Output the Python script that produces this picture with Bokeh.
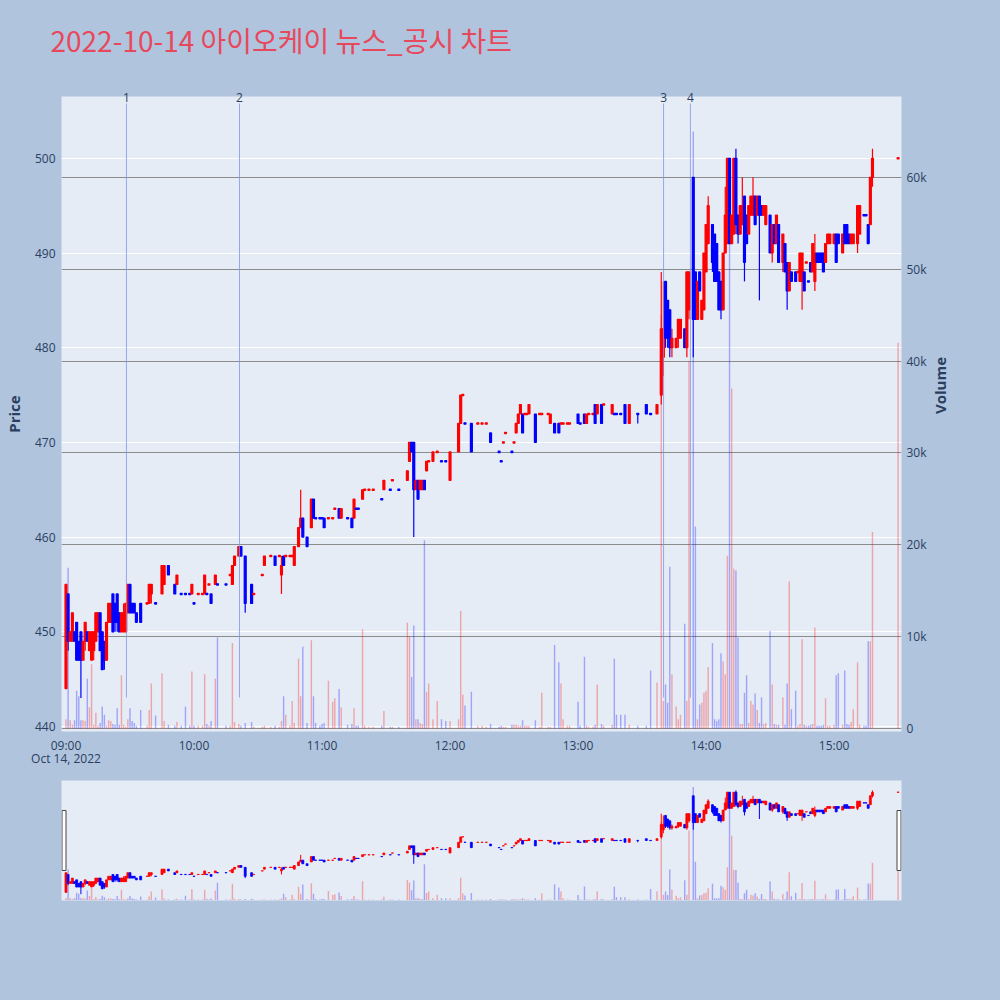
import pandas as pd
from math import pi
from bokeh.plotting import figure
from bokeh.models import (Range1d, LinearAxis, FixedTicker, ColumnDataSource, Grid)
from bokeh.layouts import column
from bokeh.embed import file_html
from bokeh.resources import INLINE

DAY = "2022-10-14"
TITLE = "2022-10-14 아이오케이 뉴스_공시 차트"

times = [
    "09:00", "09:01", "09:02", "09:03", "09:04", "09:05", "09:06", "09:07", "09:08", "09:09",
    "09:10", "09:11", "09:12", "09:13", "09:14", "09:15", "09:16", "09:17", "09:18", "09:19",
    "09:20", "09:21", "09:22", "09:23", "09:24", "09:25", "09:26", "09:27", "09:28", "09:29",
    "09:30", "09:31", "09:32", "09:33", "09:35", "09:38", "09:39", "09:40", "09:42", "09:45",
    "09:46", "09:48", "09:51", "09:52", "09:54", "09:56", "09:58", "09:59", "10:00", "10:02",
    "10:04", "10:05", "10:06", "10:07", "10:08", "10:10", "10:11", "10:15", "10:17", "10:18",
    "10:19", "10:21", "10:22", "10:24", "10:27", "10:28", "10:32", "10:33", "10:36", "10:38",
    "10:40", "10:41", "10:42", "10:43", "10:45", "10:46", "10:47", "10:49", "10:50", "10:51",
    "10:53", "10:55", "10:56", "10:57", "10:59", "11:00", "11:01", "11:03", "11:05", "11:06",
    "11:08", "11:09", "11:12", "11:14", "11:15", "11:16", "11:17", "11:19", "11:20", "11:22",
    "11:24", "11:28", "11:29", "11:32", "11:33", "11:36", "11:40", "11:41", "11:42", "11:43",
    "11:44", "11:45", "11:46", "11:47", "11:48", "11:49", "11:50", "11:52", "11:54", "11:56",
    "11:58", "12:00", "12:04", "12:05", "12:06", "12:07", "12:10", "12:13", "12:15", "12:17",
    "12:19", "12:23", "12:24", "12:25", "12:26", "12:29", "12:30", "12:31", "12:32", "12:33",
    "12:34", "12:35", "12:36", "12:37", "12:40", "12:42", "12:43", "12:46", "12:47", "12:49",
    "12:51", "12:52", "12:53", "12:55", "12:56", "13:00", "13:01", "13:03", "13:04", "13:05",
    "13:07", "13:08", "13:09", "13:11", "13:12", "13:16", "13:17", "13:18", "13:20", "13:22",
    "13:24", "13:28", "13:32", "13:34", "13:37", "13:39", "13:40", "13:41", "13:42", "13:43",
    "13:44", "13:46", "13:47", "13:48", "13:50", "13:51", "13:52", "13:54", "13:55", "13:56",
    "13:57", "13:58", "13:59", "14:00", "14:01", "14:03", "14:04", "14:05", "14:06", "14:07",
    "14:08", "14:09", "14:10", "14:11", "14:12", "14:13", "14:14", "14:15", "14:16", "14:17",
    "14:18", "14:19", "14:20", "14:21", "14:22", "14:23", "14:24", "14:25", "14:26", "14:27",
    "14:28", "14:30", "14:31", "14:32", "14:33", "14:34", "14:36", "14:37", "14:38", "14:39",
    "14:40", "14:42", "14:43", "14:44", "14:45", "14:46", "14:47", "14:48", "14:49", "14:50",
    "14:51", "14:52", "14:53", "14:54", "14:55", "14:56", "14:57", "14:58", "15:00", "15:01",
    "15:02", "15:04", "15:05", "15:06", "15:07", "15:08", "15:09", "15:11", "15:12", "15:14",
    "15:15", "15:16", "15:17", "15:18", "15:30",
]

opens = [
    444, 454, 449, 449, 450, 451, 449, 450, 447, 449,
    450, 448, 447, 448, 449, 450, 452, 450, 449, 447,
    451, 451, 454, 453, 454, 452, 450, 450, 450, 452,
    455, 453, 453, 452, 453, 453, 453, 454, 453, 454,
    455, 457, 455, 455, 454, 454, 454, 454, 453, 454,
    454, 454, 454, 455, 454, 455, 455, 455, 456, 455,
    457, 458, 459, 458, 455, 454, 456, 457, 458, 458,
    458, 456, 458, 458, 458, 458, 457, 459, 461, 462,
    460, 461, 464, 462, 462, 462, 462, 462, 462, 463,
    463, 462, 462, 462, 462, 463, 463, 464, 465, 465,
    465, 464, 465, 465, 466, 465, 466, 468, 470, 470,
    465, 466, 465, 465, 466, 467, 468, 468, 469, 468,
    468, 466, 469, 472, 475, 472, 472, 472, 472, 472,
    471, 469, 468, 470, 471, 469, 470, 471, 472, 473,
    473, 473, 473, 473, 473, 473, 473, 473, 472, 472,
    472, 472, 472, 472, 472, 473, 472, 473, 472, 473,
    473, 474, 473, 474, 474, 473, 473, 473, 473, 474,
    472, 473, 474, 473, 473, 475, 479, 487, 485, 484,
    480, 480, 481, 481, 482, 480, 484, 498, 488, 483,
    488, 483, 484, 488, 491, 493, 492, 491, 488, 487,
    484, 490, 491, 500, 491, 492, 500, 494, 492, 493,
    496, 494, 492, 494, 494, 496, 494, 496, 495, 494,
    493, 494, 490, 493, 491, 493, 489, 491, 489, 486,
    488, 488, 488, 487, 487, 488, 489, 487, 489, 488,
    487, 490, 490, 490, 490, 489, 491, 491, 491, 492,
    492, 490, 493, 493, 492, 491, 491, 491, 492, 494,
    494, 493, 493, 498, 500,
]

highs = [
    455, 454, 450, 452, 450, 451, 449, 450, 449, 451,
    450, 450, 450, 450, 452, 452, 452, 450, 449, 451,
    453, 453, 454, 453, 454, 452, 452, 453, 453, 455,
    455, 453, 453, 452, 453, 453, 455, 455, 453, 457,
    457, 457, 455, 456, 454, 454, 454, 455, 453, 454,
    454, 456, 454, 455, 454, 456, 455, 455, 456, 457,
    458, 459, 459, 458, 455, 454, 456, 458, 458, 458,
    458, 458, 458, 458, 458, 458, 459, 461, 465, 462,
    460, 464, 464, 462, 462, 462, 462, 462, 462, 463,
    463, 463, 462, 462, 464, 463, 463, 465, 465, 465,
    465, 464, 466, 465, 466, 465, 467, 470, 470, 470,
    466, 466, 466, 466, 466, 468, 468, 469, 469, 468,
    468, 469, 472, 475, 475, 472, 472, 472, 472, 472,
    471, 469, 468, 470, 471, 469, 470, 472, 473, 474,
    473, 473, 473, 474, 473, 473, 473, 473, 473, 472,
    472, 472, 472, 472, 472, 473, 472, 473, 473, 473,
    473, 474, 474, 474, 474, 474, 473, 473, 473, 474,
    474, 473, 474, 473, 474, 488, 487, 487, 485, 484,
    482, 481, 483, 483, 482, 488, 488, 498, 488, 487,
    488, 485, 490, 493, 496, 493, 492, 491, 488, 487,
    490, 497, 500, 500, 494, 500, 501, 494, 495, 498,
    496, 494, 495, 496, 498, 496, 496, 496, 495, 495,
    495, 494, 493, 493, 494, 493, 492, 491, 489, 489,
    488, 488, 488, 490, 490, 488, 489, 487, 489, 491,
    492, 490, 490, 490, 490, 491, 492, 492, 492, 492,
    492, 492, 493, 493, 492, 492, 492, 495, 495, 494,
    494, 493, 498, 501, 500,
]

lows = [
    444, 448, 449, 449, 449, 447, 447, 443, 447, 448,
    449, 448, 447, 447, 449, 450, 448, 446, 446, 447,
    451, 451, 450, 450, 450, 450, 450, 450, 450, 452,
    452, 452, 452, 451, 451, 453, 453, 453, 453, 454,
    455, 456, 454, 455, 454, 454, 454, 454, 453, 454,
    454, 454, 454, 455, 453, 455, 455, 455, 456, 455,
    457, 458, 458, 452, 453, 454, 456, 457, 458, 457,
    458, 454, 457, 458, 458, 458, 457, 459, 461, 460,
    459, 461, 462, 462, 462, 462, 461, 462, 462, 463,
    462, 462, 462, 461, 462, 463, 463, 464, 465, 465,
    465, 464, 465, 465, 466, 465, 466, 468, 469, 460,
    465, 464, 465, 465, 465, 467, 468, 468, 469, 468,
    468, 466, 469, 472, 475, 472, 469, 472, 472, 472,
    470, 469, 468, 470, 471, 469, 470, 471, 472, 473,
    471, 473, 473, 473, 470, 473, 473, 473, 472, 471,
    471, 472, 472, 472, 472, 472, 472, 472, 472, 473,
    473, 472, 473, 472, 474, 473, 473, 473, 473, 472,
    472, 472, 473, 473, 473, 474, 477, 480, 480, 479,
    479, 480, 480, 481, 480, 479, 483, 479, 483, 483,
    486, 483, 484, 488, 491, 488, 487, 487, 484, 483,
    484, 490, 491, 491, 491, 492, 492, 491, 492, 493,
    487, 491, 492, 494, 494, 493, 494, 485, 494, 494,
    493, 490, 489, 491, 491, 489, 488, 488, 484, 486,
    487, 487, 488, 487, 484, 486, 489, 487, 488, 488,
    486, 489, 489, 489, 488, 489, 491, 491, 491, 489,
    491, 490, 491, 491, 491, 491, 491, 490, 492, 494,
    494, 491, 493, 497, 500,
]

closes = [
    455, 449, 450, 452, 449, 447, 447, 447, 449, 451,
    449, 450, 450, 450, 452, 452, 448, 446, 447, 451,
    453, 453, 450, 451, 451, 450, 452, 452, 453, 455,
    452, 452, 452, 451, 451, 453, 455, 455, 453, 457,
    457, 456, 454, 456, 454, 454, 454, 455, 453, 454,
    454, 456, 454, 455, 453, 456, 455, 455, 456, 457,
    458, 459, 458, 453, 453, 454, 456, 458, 458, 457,
    458, 457, 457, 458, 458, 458, 459, 461, 462, 460,
    459, 464, 462, 462, 462, 462, 461, 462, 462, 463,
    462, 463, 462, 461, 464, 463, 463, 465, 465, 465,
    465, 464, 466, 465, 466, 465, 467, 470, 469, 465,
    466, 464, 466, 466, 465, 468, 468, 469, 469, 468,
    468, 469, 472, 475, 475, 472, 469, 472, 472, 472,
    470, 469, 468, 470, 471, 469, 470, 472, 473, 474,
    471, 473, 473, 474, 470, 473, 473, 473, 473, 471,
    471, 472, 472, 472, 472, 472, 472, 472, 473, 473,
    473, 472, 474, 472, 474, 474, 473, 473, 473, 472,
    474, 473, 473, 473, 474, 482, 482, 481, 481, 480,
    481, 481, 483, 483, 480, 488, 488, 483, 483, 487,
    486, 485, 490, 493, 495, 489, 487, 487, 484, 484,
    490, 494, 500, 491, 494, 500, 493, 492, 495, 495,
    489, 491, 495, 496, 496, 493, 496, 494, 494, 495,
    495, 490, 493, 491, 494, 489, 492, 488, 486, 489,
    487, 487, 488, 490, 490, 486, 489, 487, 488, 491,
    490, 489, 489, 489, 488, 491, 492, 492, 492, 489,
    491, 492, 491, 491, 491, 492, 492, 495, 495, 494,
    494, 491, 498, 500, 500,
]

volumes = [
    1000, 17500, 900, 400, 900, 4100, 3500, 900, 900, 800,
    5400, 2300, 7000, 400, 1700, 300, 600, 2400, 1500, 300,
    900, 800, 500, 400, 2200, 400, 5800, 400, 200, 1000,
    2200, 800, 600, 300, 2000, 300, 2000, 4900, 1400, 6000,
    800, 400, 300, 700, 300, 2400, 300, 6200, 300, 300,
    300, 5900, 500, 300, 800, 5400, 9900, 300, 300, 9300,
    700, 500, 300, 600, 700, 200, 200, 300, 200, 300,
    200, 800, 3500, 1500, 300, 3000, 600, 7600, 3500, 8900,
    600, 9600, 3500, 600, 300, 500, 600, 5200, 2900, 3300,
    4300, 2300, 400, 500, 2200, 300, 300, 10800, 300, 200,
    200, 300, 1900, 200, 200, 200, 11500, 10000, 5600, 11200,
    1000, 1000, 600, 500, 20500, 4000, 4900, 1000, 3000, 1000,
    800, 800, 1000, 12800, 3700, 2500, 4000, 300, 300, 200,
    500, 200, 300, 200, 200, 400, 400, 400, 300, 300,
    900, 300, 300, 300, 900, 200, 3900, 200, 200, 9100,
    7200, 4900, 1000, 300, 300, 2900, 300, 7800, 300, 200,
    200, 400, 4800, 500, 300, 400, 7600, 1500, 1500, 1500,
    400, 300, 300, 6300, 5000, 45000, 3000, 4800, 2800, 17600,
    5900, 2400, 1000, 1500, 11400, 3000, 40000, 65000, 22000, 1000,
    2600, 2800, 3900, 4100, 6700, 9300, 1000, 800, 1000, 8200,
    7300, 5900, 18800, 57000, 37000, 17400, 17200, 9900, 500, 500,
    3900, 5800, 600, 3000, 2600, 3800, 2000, 600, 3400, 500,
    600, 10600, 4800, 500, 400, 400, 3400, 400, 4900, 16000,
    2100, 4100, 300, 500, 9700, 400, 300, 300, 400, 500,
    11000, 300, 300, 300, 400, 3300, 300, 300, 400, 5800,
    6000, 400, 6300, 500, 400, 700, 2100, 7200, 400, 300,
    300, 9500, 9500, 21400, 42000,
]

price_ticks = [440, 450, 460, 470, 480, 490, 500]
volume_ticks = [0, 10000, 20000, 30000, 40000, 50000, 60000]
hour_ticks = ["09:00", "10:00", "11:00", "12:00", "13:00", "14:00", "15:00"]
date_label = "Oct 14, 2022"
news_labels = ["1", "2", "3", "4"]
news_times = ["09:28:20", "10:21:20", "13:40:05", "13:52:40"]

EPOCH = pd.Timestamp("1970-01-01")


def ms(hhmm):
    return (pd.Timestamp(f"{DAY} {hhmm}") - EPOCH).total_seconds() * 1000.0


n = len(times)
assert all(len(a) == n for a in (opens, highs, lows, closes, volumes))

xs = [ms(t) for t in times]
up = []
prev = True
for i in range(n):
    o, c = opens[i], closes[i]
    if c > o:
        d = True
    elif c < o:
        d = False
    else:
        pc = closes[i - 1] if i > 0 else c
        d = prev if c == pc else (c > pc)
    up.append(d)
    prev = d

RED, BLUE = "#FF0000", "#0000FF"
colors = [RED if d else BLUE for d in up]
body_top, body_bot, hi_l, lo_l = [], [], [], []
for o, h, l, c in zip(opens, highs, lows, closes):
    t_, b_ = max(o, c), min(o, c)
    if t_ == b_:
        t_ += 0.07
        b_ -= 0.07
    body_top.append(t_)
    body_bot.append(b_)
    hi_l.append(max(h, o, c))
    lo_l.append(min(l, o, c))

src = ColumnDataSource(dict(x=xs, top=body_top, bottom=body_bot, high=hi_l, low=lo_l,
                            vol=volumes, color=colors))

PRICE_RANGE = (439.47, 506.53)
VOL_RANGE = (-330, 68800)
X0, X1 = ms("08:57:54"), ms("15:31:36")
FRAME_W, FRAME_H = 840, 635
FRAME_TOP = 96
SHIFT = 12   # canvas raised by this many pixels so the title can sit higher

BG = "#B0C4DE"
PLOT_BG = "#E5ECF6"
INK = "#2a3f5f"
TITLE_COLOR = "#E8485C"
TICK_FONT = "Open Sans"

p = figure(width=1000, height=780 + SHIFT, x_axis_type="datetime",
           x_range=Range1d(X0, X1), y_range=Range1d(*PRICE_RANGE),
           output_backend="svg", toolbar_location=None, tools="",
           background_fill_color=PLOT_BG, border_fill_color=BG,
           min_border_left=61, min_border_right=99, min_border_top=FRAME_TOP + SHIFT,
           min_border_bottom=49)
p.margin = (-SHIFT, 0, 0, 0)
p.outline_line_color = None
p.extra_y_ranges = {"vol": Range1d(*VOL_RANGE)}

# title
p.title.text = TITLE
p.title.text_font = "Noto Sans CJK KR"
p.title.text_font_size = "28px"
p.title.text_font_style = "normal"
p.title.text_color = TITLE_COLOR
p.title.align = "left"
p.title.offset = -11
p.title.standoff = 47 + SHIFT

# bottom time axis with date on first tick
hour_ms = [ms(h) for h in hour_ticks]
p.xaxis.ticker = FixedTicker(ticks=hour_ms)
p.xaxis.major_label_overrides = {v: (h + "\n" + date_label if i == 0 else h)
                                 for i, (v, h) in enumerate(zip(hour_ms, hour_ticks))}
p.yaxis.ticker = FixedTicker(ticks=price_ticks)
p.yaxis.axis_label = "Price"

vax = LinearAxis(y_range_name="vol", ticker=FixedTicker(ticks=volume_ticks),
                 major_label_overrides={v: ("0" if v == 0 else f"{v // 1000}k") for v in volume_ticks},
                 axis_label="Volume")
p.add_layout(vax, "right")
if "axis_label_orientation" in vax.properties():
    vax.axis_label_orientation = pi / 2

# news markers as top-axis labels
news_ms = [ms(t) for t in news_times]
nax = LinearAxis(ticker=FixedTicker(ticks=news_ms),
                 major_label_overrides={v: lab for v, lab in zip(news_ms, news_labels)})
p.add_layout(nax, "above")

for ax in p.axis:
    ax.axis_line_color = None
    ax.major_tick_line_color = None
    ax.minor_tick_line_color = None
    ax.major_tick_out = 0
    ax.major_tick_in = 0
    ax.minor_tick_out = 0
    ax.minor_tick_in = 0
    ax.major_label_text_font = TICK_FONT
    ax.major_label_text_font_size = "12px"
    ax.major_label_text_color = INK
    ax.axis_label_text_font = TICK_FONT
    ax.axis_label_text_font_size = "15px"
    ax.axis_label_text_font_style = "bold"
    ax.axis_label_text_color = INK
p.yaxis[0].major_label_standoff = 6
p.yaxis[0].axis_label_standoff = 8
vax.major_label_standoff = 5
vax.axis_label_standoff = 10
p.xaxis.major_label_standoff = 5
p.xaxis.major_label_text_line_height = 0.8
nax.major_label_standoff = -5

p.xgrid.visible = False
p.ygrid.ticker = FixedTicker(ticks=price_ticks)
p.ygrid.grid_line_color = "white"
p.ygrid.grid_line_width = 1

vgrid = Grid(dimension=1, ticker=FixedTicker(ticks=volume_ticks), y_range_name="vol",
             grid_line_color="#8c8c8c", grid_line_width=1)
p.add_layout(vgrid)


def draw_series(fig, wick_w, body_w):
    fig.vbar(x="x", top="vol", bottom=0, width=40000, source=src, y_range_name="vol",
             fill_color="color", fill_alpha=0.3, line_color=None)
    fig.segment(x0="x", y0="low", x1="x", y1="high", source=src, line_color="color",
                line_width=wick_w)
    fig.vbar(x="x", top="top", bottom="bottom", width=55000, source=src,
             fill_color="color", line_color="color", line_width=body_w)


draw_series(p, 1.2, 1.2)

span = PRICE_RANGE[1] - PRICE_RANGE[0]


def price_at(page_y):
    return PRICE_RANGE[1] - (page_y - FRAME_TOP) / FRAME_H * span


p.segment(x0=news_ms, y0=[price_at(697)] * len(news_ms), x1=news_ms,
          y1=[price_at(103)] * len(news_ms),
          line_color="#8393ea", line_width=1, line_alpha=0.8)

# range slider
s = figure(width=1000, height=220, x_range=p.x_range, y_range=Range1d(*PRICE_RANGE),
           output_backend="svg", toolbar_location=None, tools="",
           x_axis_location=None, y_axis_location=None,
           background_fill_color=PLOT_BG, border_fill_color=BG,
           min_border_left=61, min_border_right=99, min_border_top=0, min_border_bottom=100)
s.extra_y_ranges = {"vol": Range1d(*VOL_RANGE)}
s.grid.visible = False
s.outline_line_color = None
draw_series(s, 1, 0.8)

mpp = (X1 - X0) / FRAME_W
h_bot = PRICE_RANGE[0] + 0.25 * span
h_top = PRICE_RANGE[0] + 0.75 * span
s.quad(left=[X0 + 0.5 * mpp, X1 - 4.5 * mpp], right=[X0 + 4.5 * mpp, X1 - 0.5 * mpp],
       bottom=[h_bot, h_bot], top=[h_top, h_top], fill_color="white", line_color="#444444",
       line_width=1)

layout = column(p, s, spacing=0)
layout.styles = {"background-color": BG}
html = file_html(layout, INLINE, title="chart")
css = "<style>html, body { background-color: #B0C4DE !important; }</style>"
if "</head>" in html:
    html = html.replace("</head>", css + "\n</head>", 1)
open("out.html", "w").write(html)
